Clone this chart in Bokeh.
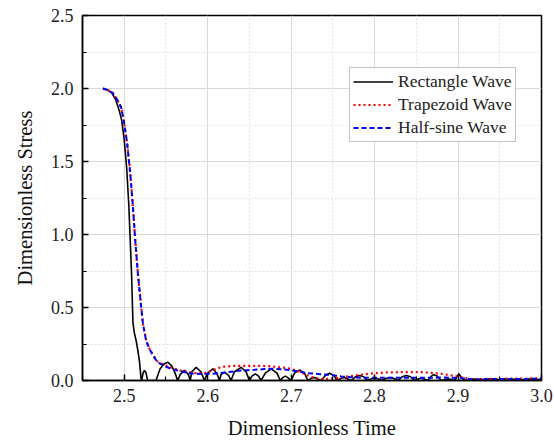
from bokeh.plotting import figure
from bokeh.models import Range1d, FixedTicker, PrintfTickFormatter, Legend, LegendItem
from bokeh.embed import file_html
from bokeh.resources import INLINE

# ---------------- data ----------------
rect_t = [2.4745, 2.4800, 2.4850, 2.4900, 2.4940, 2.4970, 2.5000, 2.5030, 2.5055, 2.5072,
          2.5088, 2.5104, 2.5120, 2.5144, 2.5165, 2.5183, 2.5200, 2.5210, 2.5225, 2.5243,
          2.5262, 2.5280, 2.5380, 2.5430, 2.5480, 2.5523, 2.5570, 2.5610, 2.5640, 2.5670,
          2.5722, 2.5770, 2.5790, 2.5810, 2.5862, 2.5920, 2.5960, 2.6000, 2.6062, 2.6110,
          2.6140, 2.6160, 2.6201, 2.6250, 2.6280, 2.6320, 2.6401, 2.6460, 2.6500, 2.6530,
          2.6570, 2.6610, 2.6640, 2.6690, 2.6760, 2.6830, 2.6870, 2.6900, 2.6930, 2.6960,
          2.7000, 2.7040, 2.7100, 2.7160, 2.7200, 2.7240, 2.7280, 2.7320, 2.7360, 2.7410,
          2.7460, 2.7510, 2.7550, 2.7600, 2.7640, 2.7680, 2.7720, 2.7770, 2.7820, 2.7870,
          2.7910, 2.7960, 2.8000, 2.8050, 2.8090, 2.8140, 2.8190, 2.8240, 2.8280, 2.8330,
          2.8380, 2.8430, 2.8480, 2.8530, 2.8560, 2.8600, 2.8640, 2.8680, 2.8710, 2.8750,
          2.8800, 2.8850, 2.8900, 2.8960, 2.8990, 2.9010, 2.9040, 2.9080, 2.9150, 2.9220,
          2.9280, 2.9350, 2.9420, 2.9490, 2.9560, 2.9630, 2.9700, 2.9780, 2.9850, 2.9920,
          3.0000]
rect_s = [2.00, 1.99, 1.97, 1.92, 1.85, 1.78, 1.65, 1.45, 1.20, 0.96,
          0.73, 0.40, 0.33, 0.27, 0.20, 0.13, 0.02, 0.00, 0.05, 0.07,
          0.05, 0.00, 0.00, 0.08, 0.115, 0.125, 0.10, 0.05, 0.00, 0.04,
          0.07, 0.04, 0.00, 0.06, 0.09, 0.06, 0.00, 0.05, 0.08, 0.05,
          0.00, 0.04, 0.057, 0.035, 0.00, 0.06, 0.09, 0.06, 0.00, 0.03,
          0.046, 0.03, 0.00, 0.05, 0.08, 0.05, 0.00, 0.02, 0.03, 0.02,
          0.00, 0.05, 0.073, 0.05, 0.00, 0.015, 0.02, 0.01, 0.00, 0.035,
          0.05, 0.035, 0.00, 0.015, 0.02, 0.01, 0.00, 0.025, 0.034, 0.025,
          0.00, 0.01, 0.015, 0.01, 0.00, 0.015, 0.02, 0.012, 0.00, 0.025,
          0.034, 0.025, 0.00, 0.012, 0.015, 0.008, 0.00, 0.03, 0.04, 0.03,
          0.00, 0.008, 0.01, 0.00, 0.03, 0.046, 0.02, 0.00, 0.008, 0.01,
          0.004, 0.01, 0.012, 0.005, 0.012, 0.006, 0.01, 0.005, 0.01, 0.006,
          0.008]

trap_t = [2.4745, 2.4800, 2.4860, 2.4910, 2.4964, 2.5000, 2.5036, 2.5072, 2.5104, 2.5132,
          2.5164, 2.5200, 2.5224, 2.5264, 2.5300, 2.5340, 2.5400, 2.5480, 2.5560, 2.5660,
          2.5760, 2.5860, 2.5960, 2.6040, 2.6120, 2.6200, 2.6300, 2.6400, 2.6520, 2.6640,
          2.6760, 2.6880, 2.7000, 2.7100, 2.7200, 2.7280, 2.7360, 2.7460, 2.7560, 2.7660,
          2.7760, 2.7880, 2.8000, 2.8140, 2.8280, 2.8420, 2.8560, 2.8680, 2.8800, 2.8900,
          2.9000, 2.9080, 2.9160, 2.9300, 2.9500, 2.9700, 2.9850, 3.0000]
trap_s = [2.00, 1.99, 1.97, 1.93, 1.87, 1.76, 1.62, 1.42, 1.19, 0.96,
          0.73, 0.52, 0.39, 0.27, 0.22, 0.18, 0.13, 0.105, 0.09, 0.07,
          0.057, 0.05, 0.05, 0.065, 0.085, 0.095, 0.10, 0.10, 0.10, 0.10,
          0.097, 0.09, 0.08, 0.06, 0.034, 0.018, 0.01, 0.012, 0.018, 0.026,
          0.034, 0.043, 0.05, 0.055, 0.057, 0.058, 0.057, 0.052, 0.046, 0.036,
          0.027, 0.018, 0.01, 0.01, 0.012, 0.013, 0.014, 0.015]

half_t = [2.4745, 2.4800, 2.4860, 2.4910, 2.4964, 2.5000, 2.5036, 2.5072, 2.5104, 2.5132,
          2.5164, 2.5200, 2.5224, 2.5264, 2.5300, 2.5340, 2.5400, 2.5480, 2.5560, 2.5640,
          2.5740, 2.5840, 2.5940, 2.6040, 2.6140, 2.6240, 2.6400, 2.6560, 2.6680, 2.6800,
          2.6900, 2.7000, 2.7100, 2.7200, 2.7320, 2.7440, 2.7520, 2.7600, 2.7720, 2.7840,
          2.8000, 2.8200, 2.8400, 2.8600, 2.8800, 2.8950, 2.9050, 2.9190, 2.9300, 2.9500,
          2.9700, 3.0000]
half_s = [2.00, 1.99, 1.97, 1.93, 1.87, 1.76, 1.62, 1.42, 1.19, 0.96,
          0.73, 0.52, 0.39, 0.27, 0.22, 0.175, 0.125, 0.10, 0.08, 0.068,
          0.055, 0.046, 0.044, 0.046, 0.05, 0.057, 0.068, 0.073, 0.078, 0.08,
          0.076, 0.07, 0.06, 0.05, 0.045, 0.04, 0.034, 0.027, 0.022, 0.019,
          0.018, 0.018, 0.018, 0.019, 0.02, 0.019, 0.015, 0.007, 0.008, 0.01,
          0.01, 0.012]

x_ticks = [2.5, 2.6, 2.7, 2.8, 2.9, 3.0]
x_minor = [2.45, 2.55, 2.65, 2.75, 2.85, 2.95]
y_ticks = [0.0, 0.5, 1.0, 1.5, 2.0, 2.5]
y_minor = [0.25, 0.75, 1.25, 1.75, 2.25]
labels = ["Rectangle Wave", "Trapezoid Wave", "Half-sine Wave"]

FONT = "Liberation Serif"

p = figure(width=554, height=443, output_backend="svg", toolbar_location=None,
           x_range=Range1d(2.45, 3.0), y_range=Range1d(0, 2.5),
           min_border_left=82, min_border_right=13, min_border_top=15, min_border_bottom=63)

r1 = p.line(rect_t, rect_s, line_color="black", line_width=1.6)
r2 = p.line(trap_t, trap_s, line_color="#ff0000", line_width=2.2, line_dash="2 3")
r3 = p.line(half_t, half_s, line_color="#0000ee", line_width=2.0, line_dash="5 3")

p.outline_line_color = "black"
p.outline_line_width = 1.5

for ax, ticks, minor in ((p.xaxis[0], x_ticks, x_minor), (p.yaxis[0], y_ticks, y_minor)):
    ax.ticker = FixedTicker(ticks=ticks, minor_ticks=minor)
    ax.formatter = PrintfTickFormatter(format="%.1f")
    ax.major_tick_in = 6
    ax.major_tick_out = 0
    ax.minor_tick_in = 4
    ax.minor_tick_out = 0
    ax.axis_line_color = "black"
    ax.axis_line_width = 1.5
    ax.major_tick_line_width = 1.5
    ax.minor_tick_line_width = 1.2
    ax.major_label_text_font = FONT
    ax.major_label_text_font_size = "18px"
    ax.major_label_text_color = "#222222"
    ax.axis_label_text_font = FONT
    ax.axis_label_text_font_size = "20.5px"
    ax.axis_label_text_font_style = "normal"
    ax.axis_label_text_color = "#111111"

p.xaxis.axis_label = "Dimensionless Time"
p.yaxis.axis_label = "Dimensionless Stress"
p.xaxis.major_label_standoff = 8
p.xaxis.axis_label_standoff = 12
p.yaxis.major_label_standoff = 9
p.yaxis.axis_label_standoff = 12

p.xgrid.grid_line_color = "#d9d9d9"
p.ygrid.grid_line_color = "#d9d9d9"
p.xgrid.minor_grid_line_color = "#e0e0e0"
p.ygrid.minor_grid_line_color = "#e0e0e0"
p.xgrid.minor_grid_line_dash = "2 2"
p.ygrid.minor_grid_line_dash = "2 2"

legend = Legend(items=[LegendItem(label=labels[0], renderers=[r1]),
                       LegendItem(label=labels[1], renderers=[r2]),
                       LegendItem(label=labels[2], renderers=[r3])],
                location=(267, 238))
legend.label_text_font = FONT
legend.label_text_font_size = "17.5px"
legend.label_text_color = "#222222"
legend.border_line_color = "#888888"
legend.border_line_width = 1
legend.glyph_width = 40
legend.glyph_height = 19
legend.label_height = 19
legend.spacing = 2
legend.padding = 3
legend.margin = 0
legend.label_standoff = 5
legend.background_fill_alpha = 1.0
p.add_layout(legend, "center")

open("out.html", "w").write(file_html(p, INLINE))
